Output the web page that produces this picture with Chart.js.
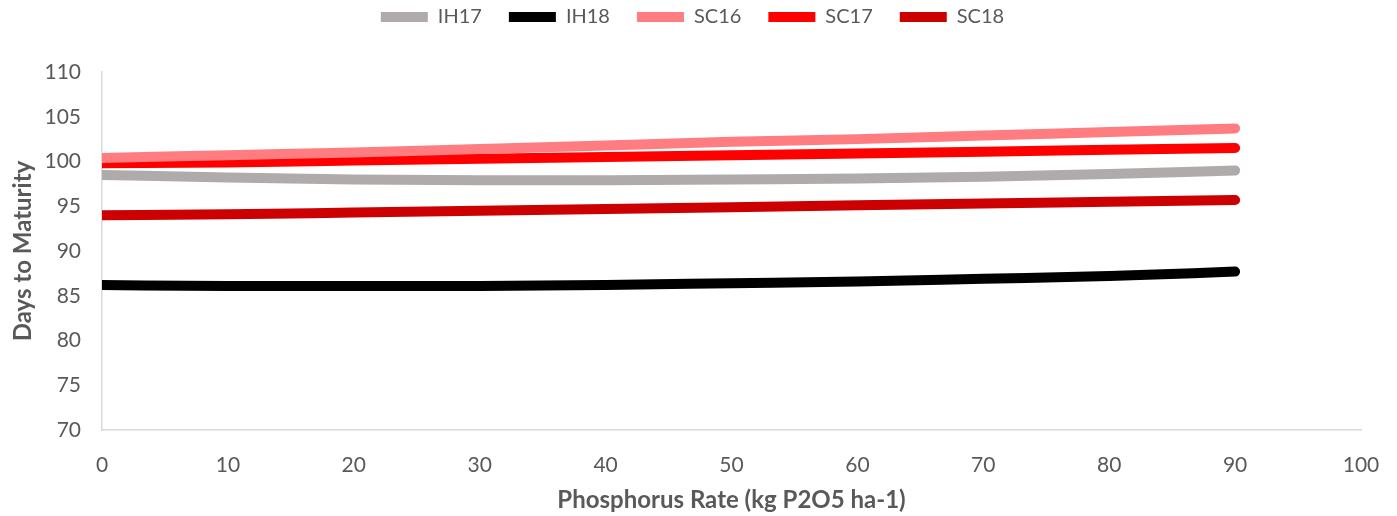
<!DOCTYPE html>
<html>
<head>
<meta charset="utf-8">
<script src="https://cdn.jsdelivr.net/npm/chart.js@4.4.0/dist/chart.umd.min.js"></script>
<style>
    html, body { margin: 0; padding: 0; background: #fff; }
    #wrap { width: 1397px; height: 516px; position: relative; }
</style>
</head>
<body>
<div id="wrap"><canvas id="chart"></canvas></div>
<script>
// Phosphorus rate vs days to maturity

const rates = [0, 10, 20, 30, 40, 50, 60, 70, 80, 90];
const ih17 = [98.5, 98.2, 98.0, 97.9, 97.9, 98.0, 98.1, 98.3, 98.6, 99.0];
const ih18 = [86.2, 86.1, 86.1, 86.1, 86.2, 86.4, 86.6, 86.9, 87.2, 87.7];
const sc16 = [100.4, 100.7, 101.0, 101.4, 101.8, 102.2, 102.5, 102.9, 103.3, 103.7];
const sc17 = [99.8, 99.9, 100.1, 100.3, 100.5, 100.7, 100.9, 101.1, 101.3, 101.5];
const sc18 = [94.0, 94.1, 94.3, 94.5, 94.7, 94.9, 95.1, 95.3, 95.5, 95.7];

const seriesNames = ['IH17', 'IH18', 'SC16', 'SC17', 'SC18'];
const seriesData = [ih17, ih18, sc16, sc17, sc18];
const seriesColors = ['#AFABAB', '#000000', '#FF7C80', '#FF0000', '#CC0000'];

const textColor = '#595959';
const axisColor = '#D9D9D9';
const fontFamily = 'Lato, "Open Sans", sans-serif';

function toPoints(values) {
    return rates.map((r, i) => ({ x: r, y: values[i] }));
}

const datasets = seriesNames.map((name, i) => ({
    label: name,
    data: toPoints(seriesData[i]),
    borderColor: seriesColors[i],
    backgroundColor: seriesColors[i],
    borderWidth: 10,
    borderCapStyle: 'round',
    borderJoinStyle: 'round',
    pointRadius: 0,
    pointHoverRadius: 0,
    pointStyle: 'line',
    cubicInterpolationMode: 'monotone',
    fill: false
}));

// nudge the legend a little to the right, as in the source chart
const legendShift = {
    id: 'legendShift',
    afterLayout(chart) {
        if (chart.legend) {
            chart.legend.left += 12;
            chart.legend.right += 12;
        }
    }
};

new Chart(document.getElementById('chart'), {
    type: 'line',
    data: { datasets: datasets },
    plugins: [legendShift],
    options: {
        responsive: true,
        maintainAspectRatio: false,
        animation: false,
        layout: { padding: { left: 0, right: 36, top: -20, bottom: 0 } },
        plugins: {
            legend: {
                position: 'top',
                labels: {
                    usePointStyle: true,
                    pointStyle: 'line',
                    pointStyleWidth: 47,
                    color: textColor,
                    font: { family: fontFamily, size: 20 },
                    padding: 27
                }
            },
            // empty title used as a spacer between legend and plot
            title: {
                display: true,
                text: '',
                position: 'top',
                weight: 500,
                font: { size: 10 },
                padding: { top: 0, bottom: 23 }
            },
            tooltip: { enabled: false }
        },
        scales: {
            x: {
                type: 'linear',
                min: 0,
                max: 100,
                afterFit: (scale) => {
                    scale.height = 86;
                    scale.paddingRight = 20;
                },
                ticks: {
                    stepSize: 10,
                    color: textColor,
                    font: { family: fontFamily, size: 21 },
                    padding: 23
                },
                grid: { display: false, drawTicks: false },
                border: { display: true, color: axisColor, width: 1.5 },
                title: {
                    display: true,
                    text: 'Phosphorus Rate (kg P2O5 ha-1)',
                    color: textColor,
                    font: { family: fontFamily, size: 24, weight: 'bold' },
                    padding: { top: 0, bottom: 1 }
                }
            },
            y: {
                min: 70,
                max: 110,
                afterFit: (scale) => { scale.width = 102; },
                ticks: {
                    stepSize: 5,
                    color: textColor,
                    font: { family: fontFamily, size: 21 },
                    padding: 21
                },
                grid: { display: false, drawTicks: false },
                border: { display: true, color: axisColor, width: 1.5 },
                title: {
                    display: true,
                    text: 'Days to Maturity',
                    color: textColor,
                    font: { family: fontFamily, size: 24, weight: 'bold' },
                    padding: { top: 9, bottom: 0 }
                }
            }
        }
    }
});
</script>
</body>
</html>
